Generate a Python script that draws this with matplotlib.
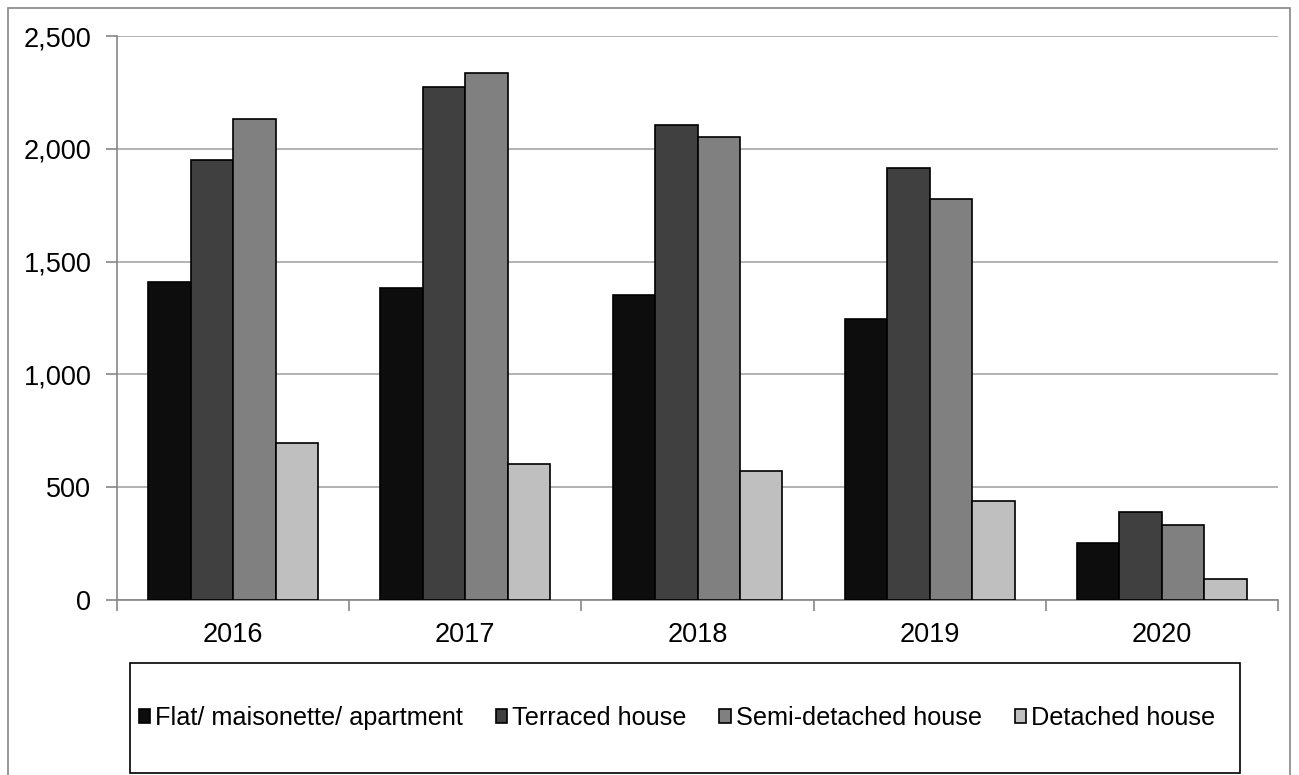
import matplotlib.pyplot as plt
import numpy as np
from matplotlib.patches import Rectangle

plt.rcParams['font.family'] = ['Liberation Sans', 'DejaVu Sans']

years = ['2016', '2017', '2018', '2019', '2020']
series = ['Flat/ maisonette/ apartment', 'Terraced house',
          'Semi-detached house', 'Detached house']
flat = [1408, 1383, 1352, 1245, 254]
terraced = [1951, 2274, 2106, 1916, 391]
semi = [2131, 2336, 2053, 1777, 332]
detached = [698, 603, 572, 439, 92]
colours = ['#0d0d0d', '#404040', '#808080', '#bfbfbf']

fig = plt.figure(figsize=(12.99, 7.75), dpi=100)
W, H = 1299, 775
ax = fig.add_axes([117 / W, 1 - 600 / H, (1278 - 117) / W, (600 - 36) / H])

x = np.arange(len(years))
bw = 0.183
handles = []
for i, vals in enumerate([flat, terraced, semi, detached]):
    b = ax.bar(x + (i - 1.5) * bw, vals, bw, color=colours[i],
               edgecolor='black', linewidth=1.2, label=series[i], zorder=3)
    handles.append(b)

ax.set_xlim(-0.5, len(years) - 0.5)
ax.set_ylim(0, 2500)
ax.set_yticks(np.arange(0, 2501, 500))
ax.set_yticklabels([f'{v:,}' for v in range(0, 2501, 500)])
ax.yaxis.grid(True, color='#a6a6a6', linewidth=1.2, zorder=0)
ax.set_xticks(x)
ax.set_xticklabels(years)
ax.set_xticks(np.arange(-0.5, len(years)), minor=True)
ax.tick_params(axis='x', which='major', length=0, labelsize=19.5, pad=16)
ax.tick_params(axis='x', which='minor', length=8, color='#868686', width=1.2)
ax.tick_params(axis='y', length=8, color='#868686', width=1.2, labelsize=19.5, pad=10.5)
for s in ['top', 'right']:
    ax.spines[s].set_visible(False)
for s in ['left', 'bottom']:
    ax.spines[s].set_color('#868686')
    ax.spines[s].set_linewidth(1.2)

# outer chart border
fig.patches.append(Rectangle((8 / W, -0.05), (1290 - 8) / W, 1.05 - 8 / H,
                             transform=fig.transFigure, fill=False,
                             edgecolor='#868686', linewidth=1.2))
# legend box
fig.patches.append(Rectangle((130 / W, 1 - 773 / H), (1240 - 130) / W, (773 - 663) / H,
                             transform=fig.transFigure, fill=False,
                             edgecolor='black', linewidth=1.2))
fig.legend(handles=handles, loc='center', ncol=4, frameon=False,
           bbox_to_anchor=(677 / W, 1 - 718 / H), fontsize=18.2,
           handlelength=0.45, handleheight=0.45, handletextpad=0.2,
           columnspacing=1.3)

fig.savefig('out.png', dpi=100)
